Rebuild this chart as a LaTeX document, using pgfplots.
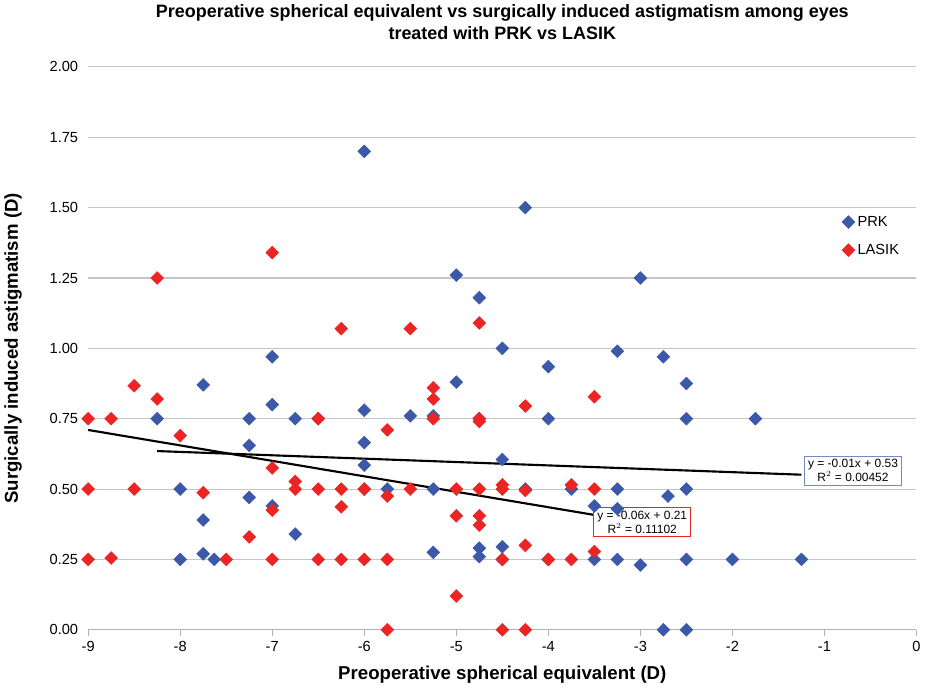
\documentclass[border=0pt]{standalone}
\usepackage{pgfplots}
\pgfplotsset{compat=1.18}
\usepackage{fontspec}
\setmainfont{Liberation Sans}
\definecolor{prk}{RGB}{60,88,168}
\definecolor{lasik}{RGB}{236,36,36}
\begin{document}
\begin{tikzpicture}
\begin{axis}[
  scale only axis, width=622.5pt, height=423pt,
  xmin=-9, xmax=0, ymin=0, ymax=2,
  xtick={-9,-8,...,0}, ytick={0,0.25,...,2},
  yticklabel style={xshift=-4pt},
  y tick label style={/pgf/number format/.cd,fixed,fixed zerofill,precision=2},
  /pgf/number format/assume math mode=true,
  ticklabel style={font=\fontsize{11}{13}\selectfont},
  axis x line*=bottom, axis y line*=left,
  y axis line style={draw=none},
  x axis line style={gray!60, line width=0.8pt},
  ymajorgrids, grid style={gray!45, line width=0.8pt},
  major y tick style={draw=none},
  major x tick style={gray!60, line width=0.8pt},
  xtick align=outside, major tick length=5pt,
  xlabel={\bfseries Preoperative spherical equivalent (D)},
  xlabel style={yshift=-4pt},
  ylabel={\bfseries Surgically induced astigmatism (D)},
  ylabel style={yshift=14pt},
  label style={font=\fontsize{14}{16}\selectfont\bfseries},
  title={\bfseries Preoperative spherical equivalent vs surgically induced astigmatism among eyes\\\bfseries treated with PRK vs LASIK},
  title style={align=center, font=\fontsize{13.5}{16.5}\selectfont, yshift=11pt},
  legend style={at={(0.905,0.745)}, anchor=north west, draw=none, fill=none, font=\fontsize{11}{13}\selectfont, row sep=8pt},
  legend cell align=left,
  clip=false,
]
\addplot[only marks, mark=square*, mark options={rotate=45}, mark size=3.4pt, color=prk] coordinates {
(-6,1.70)(-4.25,1.50)(-5,1.26)(-3,1.25)(-4.75,1.18)(-4.5,1.00)(-3.25,0.99)(-2.75,0.97)
(-7,0.97)(-4,0.935)(-5,0.88)(-2.5,0.875)(-7.75,0.87)(-7,0.80)(-6,0.78)(-5.5,0.76)(-5.25,0.76)
(-4.75,0.75)(-8.25,0.75)(-7.25,0.75)(-6.75,0.75)(-6.5,0.75)(-4,0.75)(-2.5,0.75)(-1.75,0.75)
(-6,0.665)(-7.25,0.655)(-6,0.585)(-4.5,0.605)
(-8,0.50)(-7.25,0.47)(-7,0.44)(-6,0.50)(-5.75,0.50)(-5.25,0.50)(-4.25,0.50)(-3.75,0.50)(-3.25,0.50)(-2.7,0.475)(-2.5,0.50)
(-7.75,0.39)(-6.75,0.34)(-3.5,0.44)(-3.25,0.43)
(-5.25,0.275)(-4.75,0.29)(-4.75,0.26)(-4.5,0.295)(-7.75,0.27)
(-8,0.25)(-7.63,0.25)(-4.5,0.25)(-4,0.25)(-3.5,0.25)(-3.25,0.25)(-3,0.23)(-2.5,0.25)(-2,0.25)(-1.25,0.25)
(-2.75,0)(-2.5,0)
};
\addlegendentry{PRK}
\addplot[only marks, mark=square*, mark options={rotate=45}, mark size=3.4pt, color=lasik] coordinates {
(-7,1.34)(-8.25,1.25)(-6.25,1.07)(-5.5,1.07)(-4.75,1.09)
(-8.5,0.867)(-8.25,0.82)(-5.25,0.86)(-5.25,0.82)(-3.5,0.828)(-4.25,0.795)
(-9,0.75)(-8.75,0.75)(-6.5,0.75)(-5.25,0.75)(-4.75,0.75)(-4.75,0.74)
(-8,0.69)(-5.75,0.71)(-7,0.575)
(-9,0.5)(-8.5,0.5)(-7.75,0.487)(-6.75,0.527)(-6.75,0.5)(-6.5,0.5)(-6.25,0.5)(-6,0.5)(-5.75,0.475)(-5.5,0.5)
(-5,0.5)(-4.75,0.5)(-4.5,0.515)(-4.5,0.5)(-4.25,0.495)(-3.75,0.515)(-3.5,0.5)
(-6.25,0.437)(-7,0.425)(-5,0.405)(-4.75,0.405)(-4.75,0.372)(-7.25,0.33)(-4.25,0.30)(-3.5,0.278)
(-9,0.25)(-8.75,0.255)(-7.5,0.25)(-7,0.25)(-6.5,0.25)(-6.25,0.25)(-6,0.25)(-5.75,0.25)(-4.5,0.25)(-4,0.25)(-3.75,0.25)
(-5,0.12)(-5.75,0)(-4.5,0)(-4.25,0)
};
\addlegendentry{LASIK}
\addplot[black, line width=1.6pt, forget plot] coordinates {(-8.25,0.635)(-1.25,0.551)};
\addplot[black, line width=1.6pt, forget plot] coordinates {(-9,0.71)(-3.5,0.408)};
\node[draw=prk!70, line width=0.8pt, fill=white, align=center, font=\fontsize{9}{10.5}\selectfont, inner sep=2.5pt, anchor=west] at (axis cs:-1.22,0.565) {y = -0.01x + 0.53\\R$^2$ = 0.00452};
\node[draw=lasik, line width=0.8pt, fill=white, align=center, font=\fontsize{9}{10.5}\selectfont, inner sep=2.5pt] at (axis cs:-2.98,0.382) {y = -0.06x + 0.21\\R$^2$ = 0.11102};
\end{axis}
\end{tikzpicture}
\end{document}
